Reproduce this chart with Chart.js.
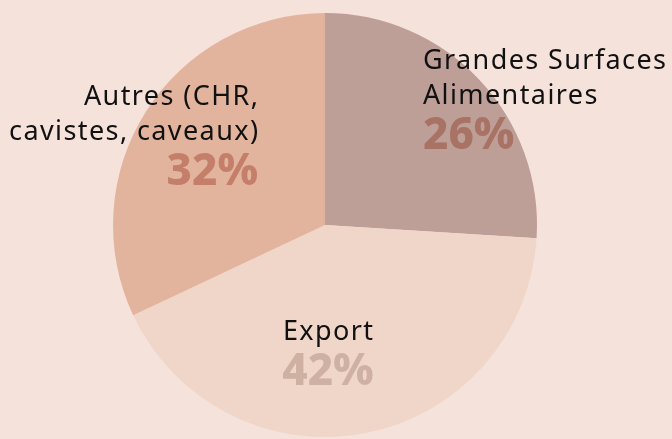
<!DOCTYPE html>
<html>
<head>
<meta charset="utf-8">
<script src="https://cdn.jsdelivr.net/npm/chart.js@4/dist/chart.umd.min.js"></script>
<style>
  html, body { margin: 0; padding: 0; background: #f5e2db; }
  #wrap { width: 672px; height: 439px; }
</style>
</head>
<body>
<div id="wrap"><canvas id="pie"></canvas></div>
<script>
// ===== données =====
const categories = ['Grandes Surfaces Alimentaires', 'Export', 'Autres (CHR, cavistes, caveaux)'];
const shares = [26, 42, 32];
const labelLines = [['Grandes Surfaces', 'Alimentaires'], ['Export'], ['Autres (CHR,', 'cavistes, caveaux)']];

const sliceColors = ['#bd9f98', '#f0d5c9', '#e3b49d'];
const pctColors = ['#a87264', '#cfb1a4', '#c47f6a'];

// placement du texte de chaque part, relatif au centre du camembert (en unités de rayon)
const labelLayout = [
    { x: 0.462, y: -0.772, align: 'left' },
    { x: 0.014, y: 0.505, align: 'center' },
    { x: -0.316, y: -0.602, align: 'right' },
];

const FONT = '"Noto Sans", sans-serif';

const sliceLabels = {
    id: 'sliceLabels',
    afterDatasetsDraw(chart) {
        const { ctx } = chart;
        const arc = chart.getDatasetMeta(0).data[0];
        const cx = arc.x, cy = arc.y, r = arc.outerRadius;
        ctx.save();
        labelLines.forEach((lines, i) => {
            const lay = labelLayout[i];
            const x = cx + lay.x * r;
            let y = cy + lay.y * r;
            ctx.textAlign = lay.align;
            ctx.textBaseline = 'middle';
            ctx.fillStyle = '#111111';
            ctx.font = '400 27px ' + FONT;
            ctx.letterSpacing = '1.4px';
            lines.forEach(line => {
                // l'espacement s'ajoute aussi après le dernier caractère
                const shift = lay.align === 'right' ? 1.4 : (lay.align === 'center' ? 0.7 : 0);
                ctx.fillText(line, x + shift, y);
                y += 35;
            });
            ctx.letterSpacing = '0px';
            ctx.fillStyle = pctColors[i];
            ctx.font = '800 44px ' + FONT;
            ctx.fillText(shares[i] + '%', x, y + 5);
        });
        ctx.restore();
    }
};

new Chart(document.getElementById('pie'), {
    type: 'pie',
    data: {
        labels: categories,
        datasets: [{
            data: shares,
            backgroundColor: sliceColors,
            borderWidth: 0,
        }]
    },
    options: {
        responsive: true,
        maintainAspectRatio: false,
        animation: false,
        layout: { padding: { top: 13, bottom: 2, left: 0, right: 22 } },
        plugins: {
            legend: { display: false },
            tooltip: { enabled: false },
        }
    },
    plugins: [sliceLabels]
});
</script>
</body>
</html>
